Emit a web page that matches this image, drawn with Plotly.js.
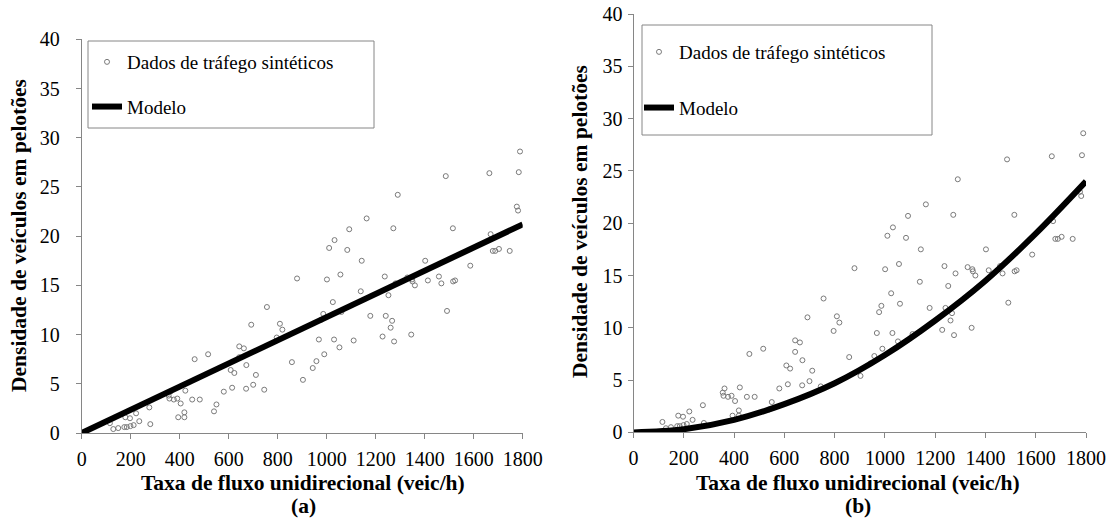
<!DOCTYPE html>
<html>
<head>
<meta charset="utf-8">
<script src="https://cdn.plot.ly/plotly-3.0.1.min.js"></script>
<style>html,body{margin:0;padding:0;background:#fff;}#chart{width:1113px;height:519px;}</style>
</head>
<body>
<div id="chart"></div>
<script>
// Synthetic traffic data (same observations in both panels)
const flow = [879,756,692,809,819,796,643,662,643,516,461,672,608,623,711,858,903,700,671,745,614,580,550,540,
  362,355,358,376,390,423,404,451,482,419,419,394,276,222,235,280,178,197,115,129,149,174,184,199,212,
  1789,1784,1664,1486,1290,1163,1272,1515,1092,1032,1010,1084,1776,1781,1669,1678,1688,1703,1747,1143,1402,1586,1056,1001,
  1237,1281,1329,1348,1350,1360,1413,1458,1468,1516,1524,1491,1139,1252,1025,1060,986,977,1178,1241,1267,1261,1228,1275,
  1345,1110,968,1030,1052,990,958,943];
const density = [15.7,12.8,11.0,11.1,10.5,9.7,8.8,8.6,7.7,8.0,7.5,6.9,6.4,6.1,5.9,7.2,5.4,4.9,4.5,4.4,4.6,4.2,2.9,2.2,
  4.2,3.8,3.5,3.4,3.5,4.3,3.0,3.4,3.4,2.1,1.6,1.6,2.6,2.0,1.2,0.9,1.6,1.5,1.0,0.4,0.5,0.6,0.6,0.7,0.8,
  28.6,26.5,26.4,26.1,24.2,21.8,20.8,20.8,20.7,19.6,18.8,18.6,23.0,22.6,20.2,18.5,18.5,18.7,18.5,17.5,17.5,17.0,16.1,15.6,
  15.9,15.2,15.8,15.6,15.4,15.0,15.5,15.9,15.2,15.4,15.5,12.4,14.4,14.0,13.3,12.3,12.1,11.5,11.9,11.9,11.4,10.7,9.8,9.3,
  10.0,9.4,9.5,9.5,8.7,8.0,7.3,6.6];

// Model (a): linear
const modelFlowA = [0, 1800];
const modelDensA = [0, 21.2];
// Model (b): curved
const modelFlowB = [0, 200, 400, 600, 800, 1000, 1200, 1400, 1600, 1800];
const modelDensB = [0, 0.3, 1.2, 2.7, 4.7, 7.4, 10.7, 14.5, 19.0, 24.0];

const xTicks = [0, 200, 400, 600, 800, 1000, 1200, 1400, 1600, 1800];
const yTicks = [0, 5, 10, 15, 20, 25, 30, 35, 40];

const seriesName = 'Dados de tráfego sintéticos';
const modelName = 'Modelo';
const xTitle = 'Taxa de fluxo unidirecional (veic/h)';
const yTitle = 'Densidade de veículos em pelotões';
const panelLabels = ['(a)', '(b)'];

const W = 1113, H = 519;
const px = v => v / W;
const py = v => 1 - v / H;

const FONT = 'Liberation Serif, DejaVu Serif, serif';

const markerStyle = {symbol: 'circle-open', size: 5, color: '#7a7a7a', line: {width: 1, color: '#7a7a7a'}};
const lineStyle = {color: '#000000', width: 6};

const traces = [
  {x: flow, y: density, type: 'scatter', mode: 'markers', name: seriesName, marker: markerStyle,
   xaxis: 'x', yaxis: 'y', legend: 'legend', legendgroup: 'a1', cliponaxis: false},
  {x: modelFlowA, y: modelDensA, type: 'scatter', mode: 'lines', name: modelName, line: lineStyle,
   xaxis: 'x', yaxis: 'y', legend: 'legend', legendgroup: 'a2'},
  {x: flow, y: density, type: 'scatter', mode: 'markers', name: seriesName, marker: markerStyle,
   xaxis: 'x2', yaxis: 'y2', legend: 'legend2', legendgroup: 'b1', cliponaxis: false},
  {x: modelFlowB, y: modelDensB, type: 'scatter', mode: 'lines', name: modelName,
   line: Object.assign({shape: 'spline', smoothing: 1}, lineStyle),
   xaxis: 'x2', yaxis: 'y2', legend: 'legend2', legendgroup: 'b2'}
];

const axisCommon = {
  showgrid: false, zeroline: false, showline: true, linecolor: '#868686', linewidth: 1,
  ticks: 'outside', ticklen: 5, tickwidth: 1, tickcolor: '#868686',
  tickfont: {family: FONT, size: 20, color: '#000'},
  fixedrange: true, automargin: false
};

const titleFont = {family: FONT, size: 21.5, color: '#000'};

const layout = {
  width: W, height: H,
  margin: {l: 0, r: 0, t: 0, b: 0},
  paper_bgcolor: '#ffffff', plot_bgcolor: '#ffffff',
  font: {family: FONT, size: 20, color: '#000'},
  xaxis: Object.assign({}, axisCommon, {domain: [px(81.7), px(522.7)], range: [0, 1800], tickvals: xTicks, anchor: 'y', ticklabelstandoff: 3}),
  yaxis: Object.assign({}, axisCommon, {domain: [py(433), py(39.3)], range: [0, 40], tickvals: yTicks, anchor: 'x', ticklabelstandoff: 12}),
  xaxis2: Object.assign({}, axisCommon, {domain: [px(633.5), px(1086)], range: [0, 1800], tickvals: xTicks, anchor: 'y2', ticklabelstandoff: 3}),
  yaxis2: Object.assign({}, axisCommon, {domain: [py(432.4), py(14)], range: [0, 40], tickvals: yTicks, anchor: 'x2', ticklabelstandoff: 1}),
  legend: {x: px(87), y: py(43), xanchor: 'left', yanchor: 'top', bgcolor: 'rgba(0,0,0,0)', borderwidth: 0,
           traceorder: 'grouped', tracegroupgap: 17, font: {family: FONT, size: 19, color: '#000'}},
  legend2: {x: px(639), y: py(33), xanchor: 'left', yanchor: 'top', bgcolor: 'rgba(0,0,0,0)', borderwidth: 0,
           traceorder: 'grouped', tracegroupgap: 28, font: {family: FONT, size: 19, color: '#000'}},
  shapes: [
    {type: 'rect', xref: 'paper', yref: 'paper', x0: px(88), x1: px(374), y0: py(128), y1: py(41),
     line: {color: '#868686', width: 1}, fillcolor: 'rgba(0,0,0,0)', layer: 'below'},
    {type: 'rect', xref: 'paper', yref: 'paper', x0: px(642), x1: px(932), y0: py(135), y1: py(25),
     line: {color: '#868686', width: 1}, fillcolor: 'rgba(0,0,0,0)', layer: 'below'}
  ],
  annotations: [
    {text: '<b>' + xTitle + '</b>', xref: 'paper', yref: 'paper', x: px(303), y: py(483), xanchor: 'center', yanchor: 'middle', showarrow: false, font: titleFont},
    {text: '<b>' + panelLabels[0] + '</b>', xref: 'paper', yref: 'paper', x: px(303), y: py(506), xanchor: 'center', yanchor: 'middle', showarrow: false, font: titleFont},
    {text: '<b>' + xTitle + '</b>', xref: 'paper', yref: 'paper', x: px(858), y: py(483), xanchor: 'center', yanchor: 'middle', showarrow: false, font: titleFont},
    {text: '<b>' + panelLabels[1] + '</b>', xref: 'paper', yref: 'paper', x: px(858), y: py(506), xanchor: 'center', yanchor: 'middle', showarrow: false, font: titleFont},
    {text: '<b>' + yTitle + '</b>', xref: 'paper', yref: 'paper', x: px(19), y: py(236), xanchor: 'center', yanchor: 'middle', textangle: -90, showarrow: false, font: titleFont},
    {text: '<b>' + yTitle + '</b>', xref: 'paper', yref: 'paper', x: px(580), y: py(222), xanchor: 'center', yanchor: 'middle', textangle: -90, showarrow: false, font: titleFont}
  ]
};

Plotly.newPlot('chart', traces, layout, {displayModeBar: false, staticPlot: true});
</script>
</body>
</html>
